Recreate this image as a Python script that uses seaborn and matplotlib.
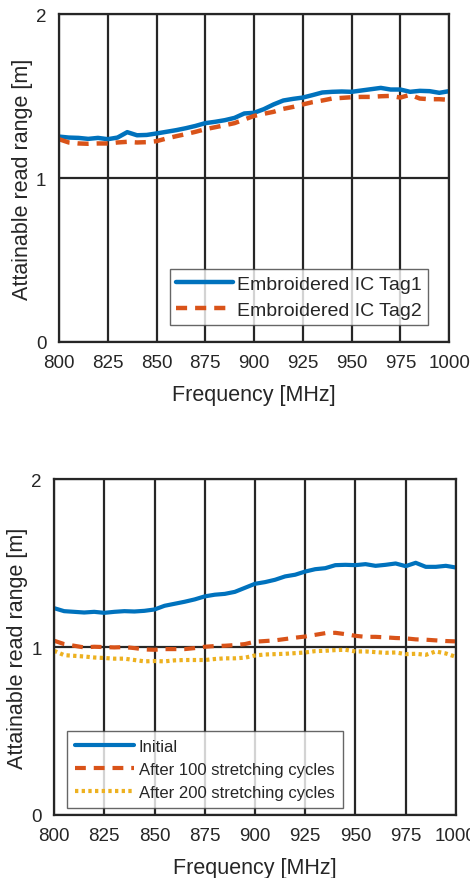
import numpy as np
import pandas as pd
import matplotlib
matplotlib.use("Agg")
import matplotlib.pyplot as plt
import seaborn as sns

# frequency axis, 5 MHz steps
freq = list(range(800, 1001, 5))

# top panel
tag1 = [1.253, 1.247, 1.245, 1.239, 1.245, 1.237, 1.247, 1.280, 1.261, 1.263,
        1.272, 1.282, 1.292, 1.304, 1.318, 1.335, 1.343, 1.353, 1.367, 1.394,
        1.398, 1.420, 1.449, 1.473, 1.483, 1.491, 1.506, 1.522, 1.526, 1.528,
        1.526, 1.534, 1.542, 1.550, 1.540, 1.540, 1.526, 1.532, 1.530, 1.520,
        1.530]
tag2 = [1.237, 1.217, 1.211, 1.209, 1.211, 1.211, 1.217, 1.221, 1.217, 1.219,
        1.225, 1.241, 1.255, 1.268, 1.282, 1.298, 1.310, 1.322, 1.335, 1.357,
        1.379, 1.392, 1.404, 1.422, 1.434, 1.449, 1.463, 1.473, 1.485, 1.489,
        1.493, 1.495, 1.495, 1.499, 1.501, 1.491, 1.508, 1.485, 1.481, 1.481,
        1.477]

# bottom panel
initial = [1.232, 1.214, 1.210, 1.206, 1.210, 1.204, 1.210, 1.214, 1.212, 1.216,
           1.224, 1.246, 1.258, 1.270, 1.284, 1.302, 1.312, 1.317, 1.329, 1.353,
           1.377, 1.387, 1.401, 1.421, 1.431, 1.450, 1.464, 1.470, 1.488, 1.490,
           1.488, 1.494, 1.484, 1.490, 1.498, 1.482, 1.502, 1.478, 1.478, 1.484,
           1.474]
cyc100 = [1.038, 1.018, 1.008, 0.998, 1.002, 1.000, 0.998, 1.000, 0.994, 0.986,
          0.984, 0.988, 0.988, 0.988, 0.994, 1.002, 1.006, 1.008, 1.012, 1.018,
          1.032, 1.036, 1.040, 1.048, 1.056, 1.063, 1.073, 1.083, 1.085, 1.077,
          1.067, 1.061, 1.061, 1.058, 1.054, 1.052, 1.046, 1.044, 1.040, 1.036,
          1.034]
cyc200 = [0.978, 0.952, 0.948, 0.944, 0.938, 0.935, 0.931, 0.931, 0.923, 0.915,
          0.917, 0.915, 0.921, 0.923, 0.923, 0.923, 0.929, 0.933, 0.933, 0.937,
          0.950, 0.956, 0.958, 0.960, 0.964, 0.968, 0.976, 0.978, 0.982, 0.984,
          0.974, 0.974, 0.970, 0.966, 0.968, 0.958, 0.960, 0.954, 0.974, 0.962,
          0.942]

xticks = list(range(800, 1001, 25))
yticks = [0, 1, 2]

sns.set_theme(style="white")
plt.rcParams['font.family'] = ['Liberation Sans', 'DejaVu Sans']

blue = '#0072BD'
orange = '#D95319'
yellow = '#EDB120'
dark = '#262626'

fig = plt.figure(figsize=(4.7, 8.79), dpi=100)
ax1 = fig.add_axes([0.1255, 0.6098, 0.830, 0.373])
ax2 = fig.add_axes([0.115, 0.0717, 0.855, 0.382])

df1 = pd.DataFrame({'freq': freq, 'tag1': tag1, 'tag2': tag2})
df2 = pd.DataFrame({'freq': freq, 'initial': initial, 'c100': cyc100, 'c200': cyc200})

sns.lineplot(data=df1, x='freq', y='tag1', ax=ax1, color=blue, lw=3.2,
             label='Embroidered IC Tag1')
sns.lineplot(data=df1, x='freq', y='tag2', ax=ax1, color=orange, lw=3.2,
             label='Embroidered IC Tag2')
ax1.lines[-1].set_dashes([2.5, 1.8])

sns.lineplot(data=df2, x='freq', y='initial', ax=ax2, color=blue, lw=3.0,
             label='Initial')
sns.lineplot(data=df2, x='freq', y='c100', ax=ax2, color=orange, lw=3.0,
             label='After 100 stretching cycles')
ax2.lines[-1].set_dashes([2.6, 1.9])
sns.lineplot(data=df2, x='freq', y='c200', ax=ax2, color=yellow, lw=3.0,
             label='After 200 stretching cycles')
ax2.lines[-1].set_dashes([0.8, 0.8])

for ax in (ax1, ax2):
    ax.set_xlim(800, 1000)
    ax.set_ylim(0, 2)
    ax.set_xticks(xticks)
    ax.set_yticks(yticks)
    ax.grid(True, color=dark, lw=1.6)
    ax.set_axisbelow(True)
    for s in ax.spines.values():
        s.set_color(dark)
        s.set_linewidth(1.6)
    ax.tick_params(length=0, labelsize=13.5, colors=dark, pad=9)
    ax.set_xlabel('Frequency [MHz]', fontsize=15.5, color=dark, labelpad=9)
    ax.set_ylabel('Attainable read range [m]', fontsize=15.5, color=dark, labelpad=2)

leg1 = ax1.legend(loc='lower right', bbox_to_anchor=(0.946, 0.052), fontsize=14,
                  frameon=True, fancybox=False, edgecolor='#404040',
                  handlelength=2.9, borderpad=0.3, labelspacing=0.45,
                  handletextpad=0.25, borderaxespad=0)
leg1.get_frame().set_linewidth(1.0)
leg2 = ax2.legend(loc='lower left', bbox_to_anchor=(0.032, 0.021), fontsize=12,
                  frameon=True, fancybox=False, edgecolor='#404040',
                  handlelength=3.5, borderpad=0.5, labelspacing=0.47,
                  handletextpad=0.3, borderaxespad=0)
leg2.get_frame().set_linewidth(1.0)

fig.savefig('out.png', dpi=100)
